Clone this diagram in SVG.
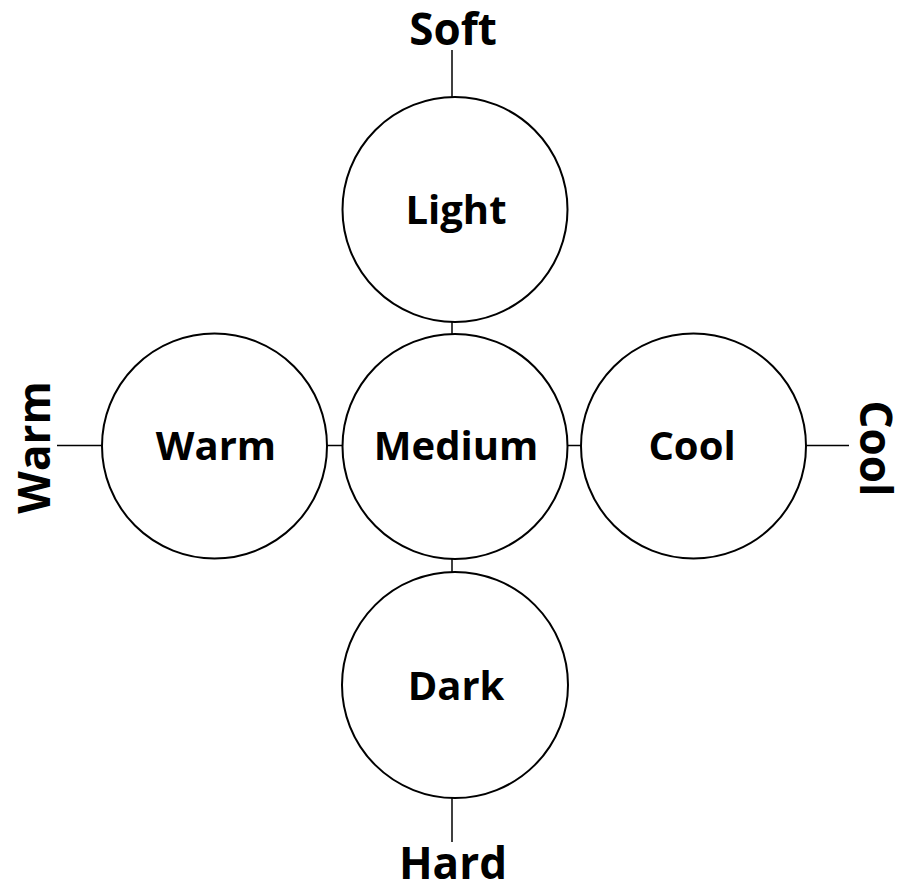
<svg xmlns="http://www.w3.org/2000/svg" width="901" height="886" viewBox="0 0 901 886">
<style>
.c{fill:#fff;stroke:#000;stroke-width:2}
.l{stroke:#000;stroke-width:1.5;fill:none}
.t{font-family:"Open Sans","Noto Sans","Liberation Sans",sans-serif;font-weight:bold;fill:#000;text-anchor:middle}
.in{font-size:40px}
.out{font-size:44px}
</style>
<rect width="901" height="886" fill="#fff"/>
<g id="connectors">
<line class="l" x1="452" y1="50" x2="452" y2="97"/>
<line class="l" x1="452" y1="322" x2="452" y2="334"/>
<line class="l" x1="452" y1="559" x2="452" y2="572"/>
<line class="l" x1="452" y1="798" x2="452" y2="842"/>
<line class="l" x1="57" y1="445.5" x2="102" y2="445.5"/>
<line class="l" x1="327" y1="445.5" x2="343" y2="445.5"/>
<line class="l" x1="567" y1="445.5" x2="581" y2="445.5"/>
<line class="l" x1="806" y1="445.5" x2="849" y2="445.5"/>
</g>
<g id="light"><circle class="c" cx="455" cy="209.5" r="112.5"/><text class="t in" x="456" y="224">Light</text></g>
<g id="medium"><circle class="c" cx="455" cy="446.5" r="112.5"/><text class="t in" x="456" y="460">Medium</text></g>
<g id="dark"><circle class="c" cx="455" cy="685" r="113"/><text class="t in" x="456" y="700">Dark</text></g>
<g id="warm"><circle class="c" cx="214.5" cy="446" r="112.5"/><text class="t in" x="216" y="460">Warm</text></g>
<g id="cool"><circle class="c" cx="693.5" cy="446" r="112.5"/><text class="t in" x="692" y="460">Cool</text></g>
<g id="label-soft"><text class="t out" x="453" y="45">Soft</text></g>
<g id="label-hard"><text class="t out" x="453" y="879">Hard</text></g>
<g id="label-warm"><text class="t out" transform="translate(50,447.5) rotate(-90)" x="0" y="0">Warm</text></g>
<g id="label-cool"><text class="t out" transform="translate(860,448.5) rotate(90)" x="0" y="0">Cool</text></g>
</svg>
